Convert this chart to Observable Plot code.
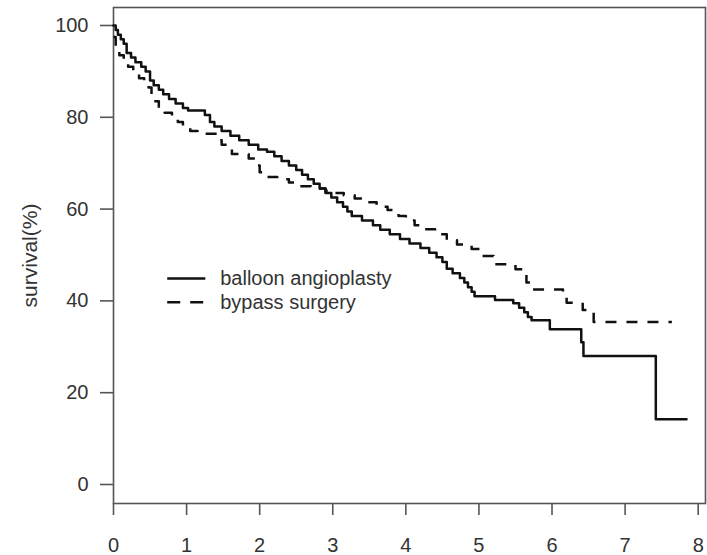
<!DOCTYPE html>
<html>
<head>
<meta charset="utf-8">
<script src="https://cdn.jsdelivr.net/npm/d3@7"></script>
<script src="https://cdn.jsdelivr.net/npm/@observablehq/plot@0.6"></script>
<style>
  html, body { margin: 0; padding: 0; background: #fff; }
  #chart svg { display: block; }
</style>
</head>
<body>
<div id="chart"></div>
<script>
// Series names
const seriesNames = ["balloon angioplasty", "bypass surgery"];

// Balloon angioplasty (solid) — Kaplan-Meier step points (years, survival %)
const balloonTime = [0, 0.03, 0.06, 0.10, 0.14, 0.18, 0.24, 0.30, 0.38, 0.44, 0.50, 0.55, 0.62, 0.68, 0.76, 0.85, 0.95, 1.02, 1.25, 1.32, 1.38, 1.48, 1.60, 1.72, 1.85, 1.98, 2.10, 2.20, 2.30, 2.40, 2.50, 2.58, 2.66, 2.74, 2.82, 2.90, 2.98, 3.06, 3.14, 3.20, 3.26, 3.40, 3.55, 3.65, 3.78, 3.92, 4.05, 4.20, 4.32, 4.42, 4.50, 4.56, 4.64, 4.74, 4.80, 4.85, 4.90, 4.94, 5.22, 5.47, 5.55, 5.62, 5.67, 5.72, 5.97, 6.40, 6.43, 7.42, 7.84];
const balloonSurv = [100, 99, 98, 97, 96, 94, 93, 92, 91, 90, 88, 87, 86, 85, 84, 83, 82, 81.5, 80.5, 79, 78, 77, 76, 75, 74, 73, 72.5, 71.5, 70.5, 69.5, 68.5, 67.5, 66.5, 65.5, 64.5, 63.5, 62.5, 61.5, 60.5, 59.5, 58.5, 57.5, 56.5, 55.5, 54.5, 53.5, 52.5, 51.5, 50.5, 49.5, 48.5, 47, 46, 45, 44, 43, 42, 41, 40.2, 39.5, 38.5, 37.5, 36.5, 35.8, 33.8, 31, 28, 14.2, 14.2];

// Bypass surgery (dashed)
const bypassTime = [0, 0.03, 0.08, 0.14, 0.20, 0.27, 0.35, 0.42, 0.48, 0.52, 0.55, 0.62, 0.70, 0.80, 0.88, 0.95, 1.05, 1.15, 1.42, 1.48, 1.55, 1.62, 1.85, 1.95, 2.00, 2.10, 2.24, 2.40, 2.55, 2.70, 2.90, 3.00, 3.15, 3.30, 3.45, 3.60, 3.75, 3.90, 4.00, 4.12, 4.24, 4.40, 4.56, 4.70, 4.90, 5.02, 5.20, 5.50, 5.65, 5.74, 6.15, 6.20, 6.42, 6.57, 7.64];
const bypassSurv = [97.5, 95, 93.5, 92, 91, 89.5, 88.5, 87.5, 86.5, 85, 83.5, 82, 81, 80, 79, 78, 77, 76.4, 75, 74, 73, 72, 71, 69.5, 68, 67, 66.5, 65.8, 65, 64.5, 64, 63.5, 63, 62.3, 61.5, 60.5, 59.8, 58.5, 57.5, 56.5, 55.6, 54.5, 53.2, 52.3, 51.3, 49.8, 48, 46.9, 44, 42.5, 41.5, 39.6, 38, 35.4, 35.4];

// Axis ticks
const xTicks = [0, 1, 2, 3, 4, 5, 6, 7, 8];
const yTicks = [0, 20, 40, 60, 80, 100];
const yLabel = "survival(%)";

// Build tables
const balloonRows = balloonTime.map((t, i) => ({t, s: balloonSurv[i], g: seriesNames[0]}));
const bypassRows = bypassTime.map((t, i) => ({t, s: bypassSurv[i], g: seriesNames[1]}));

// Legend placement (data units)
const legendX1 = 0.735, legendX2 = 1.256, legendTextX = 1.46;
const legendY = [44.9, 39.7];
const legendRows = seriesNames.map((name, i) => ({name, y: legendY[i], x1: legendX1, x2: legendX2, tx: legendTextX}));

const font = "'Liberation Sans', Arial, Helvetica, sans-serif";
const ink = "#333";
const frameInk = "#555";
const dash = "11,10";

const chart = Plot.plot({
  width: 707,
  height: 555,
  marginLeft: 113,
  marginRight: 2,
  marginTop: 7,
  marginBottom: 52,
  style: {fontFamily: font, background: "#fff", color: ink},
  x: {domain: [0, 8.1]},
  y: {domain: [-4.14, 103.92]},
  marks: [
    Plot.frame({stroke: frameInk, strokeWidth: 1.6}),
    Plot.axisY({
      ticks: yTicks, tickSize: 13, tickPadding: 12, fontSize: 20,
      stroke: frameInk, strokeWidth: 1.6, fill: ink,
      label: yLabel, labelAnchor: "center", labelArrow: "none", labelOffset: 91
    }),
    Plot.axisX({
      ticks: xTicks, tickSize: 12, tickPadding: 22, fontSize: 20,
      stroke: frameInk, strokeWidth: 1.6, fill: ink, label: null
    }),
    Plot.line(bypassRows, {
      x: "t", y: "s", curve: "step-after", stroke: "#111", strokeWidth: 2.5,
      strokeDasharray: dash, strokeLinecap: "butt"
    }),
    Plot.line(balloonRows, {
      x: "t", y: "s", curve: "step-after", stroke: "#111", strokeWidth: 2.5
    }),
    // Legend
    Plot.link(legendRows.slice(0, 1), {
      x1: "x1", x2: "x2", y1: "y", y2: "y", stroke: "#111", strokeWidth: 2.5
    }),
    Plot.link(legendRows.slice(1, 2), {
      x1: "x1", x2: "x2", y1: "y", y2: "y", stroke: "#111", strokeWidth: 2.5,
      strokeDasharray: "13,10"
    }),
    Plot.text(legendRows, {
      x: "tx", y: "y", text: "name", textAnchor: "start", fontSize: 20, fill: ink
    })
  ]
});

// y-axis label styling
chart.querySelectorAll("[aria-label='y-axis label'] text").forEach(t => t.setAttribute("font-size", "21"));

document.getElementById("chart").appendChild(chart);
</script>
</body>
</html>
